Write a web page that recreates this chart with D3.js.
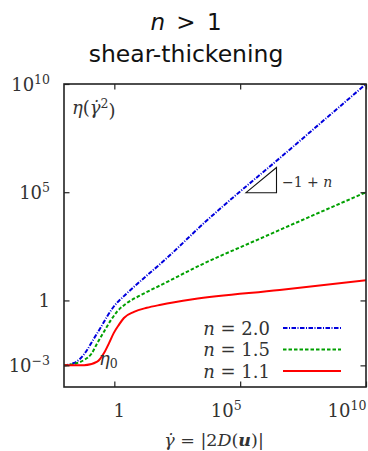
<!DOCTYPE html>
<html>
<head>
<meta charset="utf-8">
<script src="https://cdn.jsdelivr.net/npm/d3@7"></script>
<style>
  body { margin: 0; background: #fff; }
  .math { font-family: "DejaVu Serif", serif; fill: #333; }
  .title { font-family: "DejaVu Sans", sans-serif; fill: #111; }
</style>
</head>
<body>
<div id="chart-area"></div>
<script>

/* Data as log10 values */
var nValues = [2.0, 1.5, 1.1];
var seriesLabels = ["2.0", "1.5", "1.1"];

// n = 2.0
var blueLogGamma = [-2, -1.6, -1.33, -1.09, -0.81, -0.53, -0.29, -0.02, 0.38, 0.85, 2.09, 3.4, 7, 10.2];
var blueLogEta   = [-3, -2.89, -2.66, -2.3, -1.76, -1.23, -0.75, -0.28, 0.2, 0.7, 1.96, 3.4, 7, 10.2];
// n = 1.5
var greenLogGamma = [-2, -1.5, -1.2, -0.9, -0.7, -0.4, -0.13, 0.1, 0.5, 1.06, 1.85, 3.4, 5.66, 10.2];
var greenLogEta   = [-3, -2.9, -2.75, -2.45, -2.02, -1.42, -0.9, -0.53, -0.12, 0.25, 0.71, 1.62, 2.79, 5.1];
// n = 1.1
var redLogGamma = [-2, -1.2, -0.68, -0.41, -0.21, -0.02, 0.18, 0.38, 0.78, 1.29, 1.85, 3.12, 6.57, 10.2];
var redLogEta   = [-3, -3, -2.83, -2.43, -1.97, -1.5, -1.13, -0.81, -0.53, -0.34, -0.2, 0.05, 0.48, 0.96];

// tick values
var xTickExp = [0, 5, 10];
var yTickExp = [-3, 0, 5, 10];

/* Canvas */
var svg = d3.select("#chart-area").append("svg")
  .attr("width", 368)
  .attr("height", 451);

var plotL = 64, plotR = 366, plotT = 84, plotB = 387;

/* Scales */
var x = d3.scaleLog().domain([1e-2, 1e10]).range([plotL, plotR]);
var y = d3.scaleLog().domain([1e-4, 1e10]).range([plotB, plotT]);

/* Titles */
var t1 = svg.append("text")
  .attr("class", "title")
  .attr("x", 186).attr("y", 30)
  .attr("text-anchor", "middle")
  .attr("font-size", "23px");
t1.append("tspan").attr("font-style", "italic").text("n");
t1.append("tspan").attr("dx", 4).text(" >");
t1.append("tspan").attr("dx", 4).text(" 1");

svg.append("text")
  .attr("class", "title")
  .attr("x", 186).attr("y", 62)
  .attr("text-anchor", "middle")
  .attr("font-size", "23.5px")
  .text("shear-thickening");

/* Curves */
svg.append("clipPath").attr("id", "plot-clip")
  .append("rect")
  .attr("x", plotL).attr("y", plotT)
  .attr("width", plotR - plotL).attr("height", plotB - plotT);

var line = d3.line()
  .x(d => x(Math.pow(10, d[0])))
  .y(d => y(Math.pow(10, d[1])))
  .curve(d3.curveMonotoneX);

var curves = [
  {g: blueLogGamma, e: blueLogEta, color: "#0000dd", dash: "4.5,1.5,1,1.5"},
  {g: greenLogGamma, e: greenLogEta, color: "#00a000", dash: "3.5,2"},
  {g: redLogGamma, e: redLogEta, color: "#ff0000", dash: null}
];

var plot = svg.append("g").attr("clip-path", "url(#plot-clip)");
curves.forEach(c => {
  plot.append("path")
    .datum(d3.zip(c.g, c.e))
    .attr("fill", "none")
    .attr("stroke", c.color)
    .attr("stroke-width", 2)
    .attr("stroke-dasharray", c.dash)
    .attr("d", line);
});

/* Axes (ticks inward on all four sides) */
var tickVals = xTickExp.map(d => Math.pow(10, d));
var yTickVals = yTickExp.map(d => Math.pow(10, d));

svg.append("g")
  .attr("transform", "translate(0," + plotB + ")")
  .call(d3.axisBottom(x).tickValues(tickVals).tickSize(-5.5).tickFormat(""));
svg.append("g")
  .attr("transform", "translate(0," + plotT + ")")
  .call(d3.axisTop(x).tickValues(tickVals).tickSize(-5.5).tickFormat(""));
svg.append("g")
  .attr("transform", "translate(" + plotL + ",0)")
  .call(d3.axisLeft(y).tickValues(yTickVals).tickSize(-5.5).tickFormat(""));
svg.append("g")
  .attr("transform", "translate(" + plotR + ",0)")
  .call(d3.axisRight(y).tickValues(yTickVals).tickSize(-5.5).tickFormat(""));

svg.selectAll(".domain").remove();
svg.selectAll(".tick line").attr("stroke", "#222").attr("stroke-width", 1.2);

svg.append("rect")
  .attr("x", plotL).attr("y", plotT)
  .attr("width", plotR - plotL).attr("height", plotB - plotT)
  .attr("fill", "none")
  .attr("stroke", "#222")
  .attr("stroke-width", 1.6);

/* Tick labels */
function powLabel(sel, e) {
  if (e === 0) { sel.text("1"); return; }
  sel.append("tspan").text("10");
  sel.append("tspan").attr("dy", "-0.55em").attr("font-size", "12.5px")
    .text(e < 0 ? "\u2212" + (-e) : e);
}

yTickExp.forEach(e => {
  var t = svg.append("text")
    .attr("class", "math")
    .attr("x", 50).attr("y", y(Math.pow(10, e)) + 6.5)
    .attr("text-anchor", "end")
    .attr("font-size", "18px");
  powLabel(t, e);
});

var xLabelShift = {0: 5, 5: -14, 10: -19};
xTickExp.forEach(e => {
  var t = svg.append("text")
    .attr("class", "math")
    .attr("x", x(Math.pow(10, e)) + xLabelShift[e]).attr("y", 417)
    .attr("text-anchor", "middle")
    .attr("font-size", "18px");
  powLabel(t, e);
});

/* Axis labels */
var xl = svg.append("text")
  .attr("class", "math")
  .attr("x", 214).attr("y", 446)
  .attr("text-anchor", "middle")
  .attr("font-size", "17.5px");
xl.append("tspan").attr("font-style", "italic").text("\u03B3\u0307");
xl.append("tspan").text(" = |2");
xl.append("tspan").attr("font-style", "italic").text("D");
xl.append("tspan").text("(");
xl.append("tspan").attr("font-style", "italic").attr("font-weight", "bold").text("u");
xl.append("tspan").text(")|");

var yl = svg.append("text")
  .attr("class", "math")
  .attr("x", 72).attr("y", 114)
  .attr("font-size", "18px");
yl.append("tspan").attr("font-style", "italic").text("\u03B7");
yl.append("tspan").text("(");
yl.append("tspan").attr("font-style", "italic").text("\u03B3\u0307");
yl.append("tspan").attr("dy", "-0.5em").attr("font-size", "12.5px").text("2");
yl.append("tspan").attr("dy", "0.5em").text(")");

// eta_0 label
var e0 = svg.append("text")
  .attr("class", "math")
  .attr("x", 99).attr("y", 365)
  .attr("font-size", "18px");
e0.append("tspan").attr("font-style", "italic").text("\u03B7");
e0.append("tspan").attr("dy", "0.25em").attr("font-size", "12.5px").text("0");

/* Slope triangle */
var tri = [[246, 192.7], [276.5, 192.7], [276.5, 167.5]];
svg.append("path")
  .attr("d", d3.line()(tri) + "Z")
  .attr("fill", "none")
  .attr("stroke", "#111")
  .attr("stroke-width", 1.1);

var sl = svg.append("text")
  .attr("class", "math")
  .attr("x", 282).attr("y", 187)
  .attr("font-size", "14px")
  .attr("fill", "#444");
sl.append("tspan").text("\u22121 + ");
sl.append("tspan").attr("font-style", "italic").text("n");

/* Legend */
var legend = svg.append("g");
seriesLabels.forEach((lab, i) => {
  var yy = 328 + i * 21.5;
  var row = legend.append("text")
    .attr("class", "math")
    .attr("x", 270).attr("y", yy + 6.5)
    .attr("text-anchor", "end")
    .attr("font-size", "18px");
  row.append("tspan").attr("font-style", "italic").text("n");
  row.append("tspan").text(" = " + lab);

  legend.append("line")
    .attr("x1", 283).attr("x2", 341)
    .attr("y1", yy).attr("y2", yy)
    .attr("stroke", curves[i].color)
    .attr("stroke-width", 2)
    .attr("stroke-dasharray", curves[i].dash);
});

</script>
</body>
</html>
